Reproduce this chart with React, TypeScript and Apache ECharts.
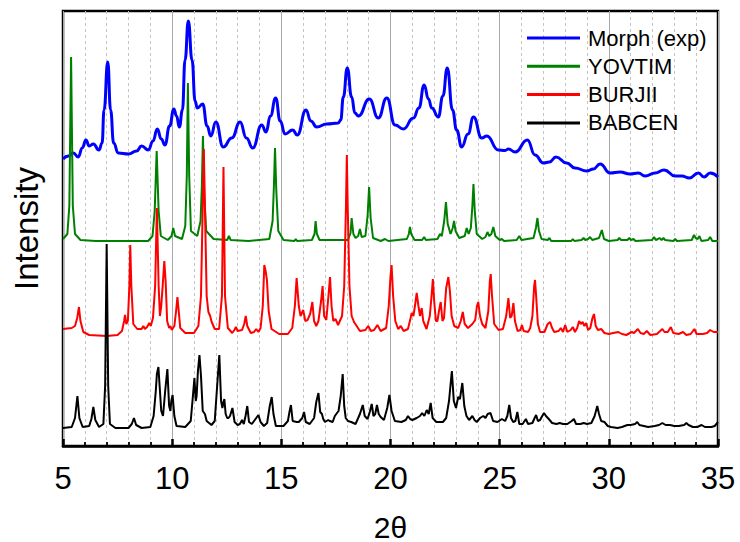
import React, { useEffect, useRef } from "react";
import * as echarts from "echarts";

// Powder XRD patterns, 2θ (degrees) vs stacked intensity (arbitrary units)
const seriesNames = ["Morph (exp)", "YOVTIM", "BURJII", "BABCEN"];
const seriesColors = ["#0000ff", "#008000", "#ff0000", "#000000"];
const xTicks = { min: 5, max: 35, step: 5 };

const morphExp: number[][] = [
  [5.0, 287], [5.25, 290], [5.47, 293], [5.7, 289], [5.88, 298], [6.05, 306], [6.2, 300], [6.39, 302],
  [6.65, 296], [6.79, 303], [6.88, 336], [7.05, 384], [7.18, 336], [7.32, 303], [7.53, 293], [8.0, 292],
  [8.37, 295], [8.6, 300], [8.91, 296], [9.12, 305], [9.32, 317], [9.5, 307], [9.67, 301], [9.88, 320],
  [10.08, 337], [10.2, 330], [10.33, 319], [10.47, 336], [10.59, 386], [10.74, 425], [10.91, 386],
  [11.05, 345], [11.15, 338], [11.4, 342], [11.6, 320], [11.77, 310], [12.0, 324], [12.34, 299],
  [12.73, 308], [13.11, 324], [13.4, 308], [13.69, 298], [14.1, 321], [14.3, 314], [14.5, 330],
  [14.74, 348], [14.95, 325], [15.17, 312], [15.52, 316], [15.73, 311], [16.13, 336], [16.35, 325],
  [16.62, 319], [17.08, 322], [17.61, 323], [17.72, 326], [17.84, 349], [18.02, 378], [18.22, 349],
  [18.37, 333], [18.53, 330], [19.03, 347], [19.44, 328], [19.83, 348], [20.21, 321], [20.59, 317],
  [21.05, 328], [21.3, 338], [21.54, 361], [21.74, 347], [21.89, 338], [22.19, 329], [22.4, 350],
  [22.6, 378], [22.84, 336], [23.03, 316], [23.26, 299], [23.55, 312], [23.8, 329], [24.18, 308],
  [24.41, 310], [24.94, 296], [25.25, 295.5], [25.4, 297], [25.71, 294], [26.27, 306], [26.62, 291],
  [27.0, 283], [27.28, 284], [27.58, 289], [28.07, 283], [28.45, 278], [28.99, 275], [29.29, 277],
  [29.6, 282], [30.06, 273], [30.51, 274], [30.97, 272], [31.35, 273], [31.66, 270], [32.12, 273],
  [32.53, 276], [33.04, 270], [33.34, 270], [33.69, 268], [34.1, 273], [34.36, 269], [34.64, 273],
  [35.0, 269],
];

const yovtim: number[][] = [
  [5.0, 207], [5.2, 212], [5.29, 240], [5.37, 389], [5.45, 240], [5.55, 212], [5.8, 206], [6.5, 205],
  [8.9, 205], [9.1, 210], [9.2, 235], [9.29, 295], [9.38, 235], [9.48, 210], [9.8, 206], [9.97, 210],
  [10.05, 218], [10.13, 210], [10.45, 207], [10.6, 220], [10.67, 270], [10.72, 363], [10.78, 270],
  [10.86, 215], [11.15, 210], [11.3, 225], [11.36, 260], [11.41, 310], [11.47, 250], [11.56, 215],
  [11.9, 207], [12.52, 206], [12.6, 210], [12.68, 206], [13.5, 205], [14.45, 207], [14.6, 225],
  [14.66, 260], [14.71, 298], [14.77, 255], [14.86, 215], [15.1, 206], [15.6, 205], [15.66, 207],
  [15.72, 205], [16.4, 206], [16.52, 212], [16.57, 225], [16.63, 212], [16.75, 206], [18.05, 206],
  [18.17, 213], [18.22, 228], [18.3, 212], [18.4, 208], [18.52, 210], [18.6, 217], [18.68, 209],
  [18.85, 210], [18.95, 230], [19.02, 259], [19.09, 228], [19.2, 208], [19.55, 205], [19.75, 207],
  [19.9, 205], [20.75, 207], [20.84, 212], [20.89, 219], [20.95, 212], [21.1, 206], [21.45, 206],
  [21.54, 209], [21.62, 206], [22.15, 207], [22.27, 212], [22.35, 210], [22.46, 225], [22.54, 244],
  [22.62, 222], [22.75, 212], [22.85, 218], [22.91, 225], [22.98, 215], [23.15, 208], [23.4, 210],
  [23.49, 218], [23.58, 212], [23.68, 218], [23.75, 240], [23.8, 262], [23.86, 235], [23.95, 212],
  [24.2, 207], [24.35, 209], [24.44, 214], [24.52, 210], [24.62, 212], [24.71, 219], [24.8, 210],
  [25.0, 206], [25.1, 207], [25.2, 205], [25.78, 206], [25.9, 210], [26.0, 206], [26.55, 208],
  [26.66, 218], [26.73, 228], [26.8, 215], [26.92, 207], [27.2, 206], [27.28, 208], [27.36, 205],
  [28.28, 205], [28.35, 207], [28.42, 205], [28.75, 206], [28.84, 208], [28.92, 206], [29.05, 207],
  [29.14, 209], [29.24, 206], [29.55, 208], [29.68, 216], [29.78, 207], [30.0, 205], [30.4, 206],
  [30.48, 208], [30.56, 206], [30.85, 206], [30.94, 208], [31.02, 206], [31.13, 207], [31.22, 205],
  [31.98, 206], [32.07, 209], [32.15, 206], [32.25, 207], [32.32, 208], [32.42, 206], [32.5, 208],
  [32.58, 206], [32.95, 205], [33.04, 207], [33.12, 205], [33.8, 206], [33.9, 211], [33.98, 208],
  [34.07, 207], [34.15, 210], [34.24, 205], [34.55, 206], [34.64, 209], [34.74, 205], [35.0, 205],
];

const burjii: number[][] = [
  [5.0, 117], [5.4, 118], [5.55, 120], [5.65, 128], [5.73, 139], [5.8, 125], [5.93, 114], [6.2, 111],
  [7.0, 110], [7.5, 111], [7.7, 115], [7.8, 125], [7.84, 131], [7.9, 122], [7.97, 125], [8.04, 160],
  [8.08, 201], [8.13, 160], [8.22, 122], [8.4, 117], [8.6, 117], [8.68, 120], [8.75, 117], [8.85, 119],
  [8.95, 123], [9.02, 120], [9.12, 128], [9.22, 160], [9.3, 238], [9.38, 160], [9.44, 130], [9.5, 140],
  [9.58, 165], [9.64, 185], [9.7, 165], [9.77, 125], [9.86, 118], [9.92, 120], [9.98, 116], [10.1, 120],
  [10.18, 135], [10.24, 149], [10.3, 135], [10.37, 118], [10.6, 113], [11.0, 113], [11.2, 120],
  [11.32, 150], [11.4, 240], [11.45, 297], [11.5, 240], [11.58, 150], [11.66, 134], [11.74, 130],
  [11.81, 124], [11.95, 117], [12.15, 117], [12.28, 150], [12.35, 279], [12.42, 150], [12.55, 118],
  [12.75, 113], [12.85, 116], [12.92, 119], [13.0, 115], [13.2, 116], [13.3, 122], [13.37, 130],
  [13.44, 120], [13.6, 113], [13.75, 114], [13.85, 117], [13.95, 114], [14.05, 118], [14.15, 140],
  [14.22, 181], [14.28, 175], [14.34, 166], [14.42, 135], [14.55, 117], [14.9, 112], [15.3, 112],
  [15.5, 118], [15.62, 140], [15.7, 168], [15.8, 140], [15.88, 130], [16.0, 136], [16.1, 125],
  [16.2, 126], [16.32, 132], [16.42, 144], [16.5, 125], [16.6, 120], [16.7, 125], [16.82, 145],
  [16.89, 160], [16.96, 130], [17.06, 126], [17.15, 148], [17.23, 169], [17.3, 140], [17.38, 125],
  [17.48, 127], [17.6, 121], [17.78, 130], [17.88, 160], [17.96, 240], [18.0, 291], [18.04, 240],
  [18.12, 160], [18.22, 130], [18.33, 124], [18.45, 120], [18.6, 115], [18.85, 116], [18.98, 120],
  [19.1, 115], [19.25, 116], [19.4, 121], [19.55, 115], [19.8, 118], [19.92, 140], [20.0, 170],
  [20.05, 181], [20.12, 150], [20.22, 125], [20.35, 117], [20.47, 120], [20.6, 115], [20.8, 117],
  [20.92, 128], [20.97, 133], [21.05, 130], [21.12, 140], [21.2, 153], [21.28, 140], [21.35, 130],
  [21.43, 138], [21.5, 125], [21.65, 117], [21.8, 130], [21.88, 150], [21.94, 167], [22.0, 145],
  [22.08, 125], [22.15, 125], [22.22, 135], [22.3, 144], [22.38, 125], [22.45, 128], [22.55, 158],
  [22.65, 169], [22.72, 155], [22.8, 130], [22.92, 120], [23.1, 118], [23.22, 125], [23.31, 134],
  [23.4, 122], [23.55, 118], [23.75, 122], [23.88, 126], [23.96, 140], [24.02, 144], [24.1, 130],
  [24.2, 122], [24.35, 118], [24.48, 135], [24.55, 165], [24.59, 172], [24.65, 150], [24.75, 122],
  [24.95, 116], [25.15, 117], [25.3, 130], [25.4, 148], [25.48, 128], [25.55, 130], [25.63, 143],
  [25.7, 125], [25.82, 115], [25.95, 116], [26.02, 121], [26.1, 115], [26.3, 114], [26.4, 118],
  [26.5, 130], [26.58, 160], [26.62, 166], [26.67, 150], [26.75, 122], [26.85, 114], [27.05, 114],
  [27.2, 122], [27.31, 124], [27.4, 118], [27.5, 114], [27.7, 115], [27.8, 118], [27.9, 114],
  [28.0, 121], [28.1, 114], [28.25, 116], [28.35, 119], [28.45, 114], [28.55, 118], [28.64, 125],
  [28.72, 122], [28.8, 124], [28.88, 120], [28.96, 123], [29.05, 116], [29.15, 118], [29.25, 128],
  [29.32, 132], [29.4, 120], [29.5, 116], [29.65, 117], [29.8, 113], [30.0, 112], [30.2, 113],
  [30.44, 114], [30.6, 112], [30.8, 111], [31.05, 114], [31.15, 113], [31.33, 117], [31.45, 113],
  [31.6, 112], [31.74, 115], [31.9, 111], [32.2, 112], [32.35, 115], [32.45, 117], [32.55, 114],
  [32.7, 114], [32.84, 119], [32.95, 113], [33.2, 112], [33.4, 114], [33.55, 111], [33.75, 112],
  [33.92, 117], [34.02, 112], [34.3, 112], [34.5, 113], [34.64, 116], [34.8, 114], [35.0, 114],
];

const babcen: number[][] = [
  [5.0, 18], [5.4, 19], [5.55, 28], [5.66, 50], [5.75, 28], [5.9, 19], [6.2, 20], [6.3, 27], [6.39, 39],
  [6.48, 26], [6.65, 19], [6.85, 22], [6.93, 60], [7.0, 202], [7.07, 60], [7.15, 22], [7.4, 18],
  [8.0, 18], [8.15, 22], [8.25, 28], [8.35, 21], [8.6, 18], [9.0, 19], [9.15, 30], [9.25, 55],
  [9.3, 72], [9.37, 79], [9.44, 55], [9.5, 35], [9.58, 30], [9.68, 55], [9.78, 77], [9.86, 40],
  [9.92, 35], [9.96, 45], [10.02, 51], [10.1, 30], [10.2, 20], [10.6, 19], [10.85, 25], [10.95, 50],
  [11.02, 68], [11.08, 45], [11.12, 50], [11.18, 75], [11.25, 91], [11.32, 70], [11.4, 35], [11.5, 32],
  [11.58, 25], [11.8, 21], [11.95, 25], [12.06, 60], [12.16, 91], [12.24, 45], [12.3, 38], [12.35, 44],
  [12.39, 47], [12.45, 32], [12.52, 28], [12.58, 28], [12.65, 30], [12.76, 38], [12.86, 24], [13.0, 21],
  [13.1, 22], [13.2, 26], [13.28, 22], [13.36, 30], [13.44, 40], [13.52, 24], [13.65, 22], [13.85, 28],
  [13.95, 31], [14.05, 24], [14.2, 20], [14.35, 23], [14.47, 40], [14.56, 49], [14.64, 32], [14.75, 20],
  [15.1, 20], [15.3, 25], [15.38, 35], [15.44, 41], [15.52, 25], [15.7, 24], [15.8, 24], [15.96, 28],
  [16.04, 34], [16.12, 24], [16.3, 22], [16.5, 28], [16.6, 44], [16.7, 53], [16.78, 34], [16.86, 32],
  [16.92, 27], [17.0, 24], [17.15, 26], [17.22, 25], [17.35, 24], [17.45, 30], [17.55, 33], [17.62, 35],
  [17.72, 50], [17.81, 72], [17.88, 40], [17.95, 28], [18.05, 25], [18.2, 24], [18.4, 22], [18.6, 32],
  [18.73, 41], [18.82, 30], [18.95, 27], [19.05, 34], [19.14, 42], [19.22, 30], [19.3, 32], [19.38, 41],
  [19.46, 32], [19.55, 29], [19.7, 26], [19.85, 38], [19.95, 51], [20.05, 35], [20.2, 25], [20.5, 24],
  [20.7, 26], [20.8, 30], [20.9, 27], [21.0, 26], [21.2, 28], [21.35, 30], [21.45, 33], [21.55, 30],
  [21.66, 36], [21.75, 32], [21.84, 43], [21.93, 28], [22.1, 24], [22.4, 24], [22.55, 28], [22.68, 45],
  [22.81, 75], [22.9, 45], [23.0, 38], [23.1, 49], [23.18, 47], [23.29, 63], [23.38, 40], [23.48, 30],
  [23.6, 26], [23.75, 30], [23.85, 26], [23.95, 24], [24.1, 28], [24.25, 30], [24.35, 28], [24.45, 32],
  [24.58, 33], [24.7, 25], [24.9, 24], [25.1, 27], [25.25, 25], [25.35, 30], [25.44, 41], [25.52, 28],
  [25.62, 24], [25.72, 25], [25.81, 34], [25.9, 22], [26.05, 22], [26.2, 27], [26.3, 22], [26.5, 23],
  [26.6, 28], [26.67, 31], [26.75, 25], [26.85, 26], [26.95, 30], [27.03, 33], [27.12, 30], [27.25, 27],
  [27.4, 23], [27.6, 22], [27.75, 23], [27.9, 22], [28.1, 22], [28.3, 25], [28.4, 27], [28.5, 22],
  [28.7, 22], [28.85, 23], [29.0, 22], [29.2, 23], [29.35, 30], [29.47, 40], [29.55, 32], [29.65, 25],
  [29.8, 24], [29.95, 20], [30.1, 19], [30.4, 18], [30.6, 19], [30.85, 21], [31.0, 21], [31.2, 22],
  [31.3, 24], [31.4, 21], [31.6, 20], [31.8, 19], [32.1, 20], [32.3, 21], [32.45, 23], [32.6, 21],
  [32.8, 21], [33.0, 20], [33.2, 20], [33.45, 21], [33.55, 23], [33.65, 21], [33.85, 19], [34.05, 19],
  [34.25, 21], [34.4, 19], [34.7, 19], [34.85, 20], [35.0, 24],
];

const patterns = [morphExp, yovtim, burjii, babcen];

const FONT = "'Liberation Sans', Arial, Helvetica, sans-serif";

export default function App() {
  const ref = useRef<HTMLDivElement>(null);

  useEffect(() => {
    if (!ref.current) return;
    const chart = echarts.init(ref.current, undefined, { renderer: "svg" });
    chart.setOption({
      animation: false,
      backgroundColor: "#ffffff",
      grid: {
        left: 63,
        right: 22,
        top: 11,
        bottom: 96,
        outerBoundsMode: "none",
        containLabel: false,
        show: true,
        borderColor: "#000",
        borderWidth: 2.5,
      },
      legend: {
        orient: "vertical",
        left: 522,
        top: 22,
        icon: "rect",
        itemWidth: 53,
        itemHeight: 3,
        itemGap: 6.3,
        data: seriesNames,
        textStyle: {
          fontFamily: FONT,
          fontSize: 22,
          lineHeight: 22,
          color: "#000",
          padding: [0, 0, 0, 3],
        },
      },
      xAxis: {
        type: "value",
        min: xTicks.min,
        max: xTicks.max,
        interval: xTicks.step,
        name: "2θ",
        nameLocation: "middle",
        nameGap: 66,
        nameTextStyle: { fontFamily: FONT, fontSize: 30, color: "#000" },
        axisLine: { show: true, lineStyle: { color: "#000", width: 2.5 } },
        axisTick: { show: true, inside: true, length: 7, lineStyle: { color: "#000", width: 2.5 } },
        minorTick: { show: true, splitNumber: 5, length: 4, lineStyle: { color: "#000", width: 1.8 } },
        axisLabel: { fontFamily: FONT, fontSize: 31, color: "#000", margin: 17 },
        splitLine: { show: true, lineStyle: { color: "#a8a8a8", width: 1 } },
        minorSplitLine: { show: true, lineStyle: { color: "#c4c4c4", width: 1, type: [3, 3] } },
      },
      yAxis: {
        type: "value",
        min: 0,
        max: 435,
        name: "Intensity",
        nameLocation: "middle",
        nameGap: 20,
        nameTextStyle: { fontFamily: FONT, fontSize: 33, color: "#000" },
        axisLine: { show: false },
        axisTick: { show: false },
        axisLabel: { show: false },
        splitLine: { show: false },
      },
      series: patterns.map((data, i) => ({
        name: seriesNames[i],
        type: "line",
        data,
        symbol: "none",
        smooth: i === 0 ? 0.5 : false,
        smoothMonotone: i === 0 ? "x" : undefined,
        color: seriesColors[i],
        lineStyle: { color: seriesColors[i], width: i === 0 ? 3 : 2 },
        emphasis: { disabled: true },
      })),
    });
    return () => chart.dispose();
  }, []);

  return (
    <div
      ref={ref}
      style={{ position: "fixed", left: 0, top: 0, width: 740, height: 542, background: "#fff" }}
    />
  );
}
